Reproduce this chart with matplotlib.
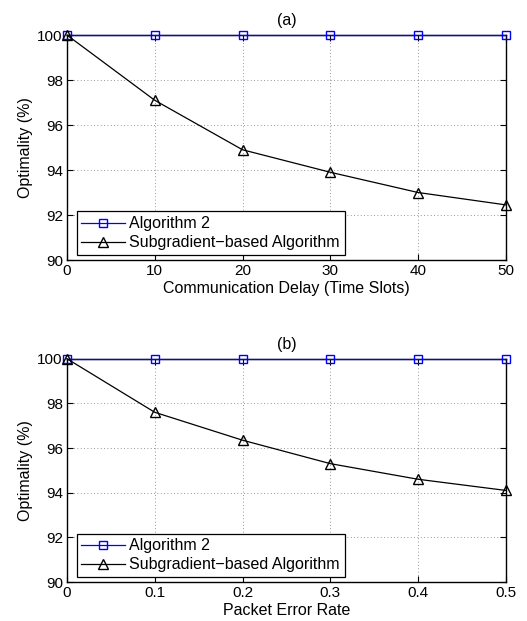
import numpy as np
from matplotlib import pyplot as plt

plt.rcParams['font.family'] = ['Liberation Sans', 'DejaVu Sans']
plt.rcParams['font.size'] = 11

# (a) communication delay
delay = [0, 10, 20, 30, 40, 50]
alg2_a = [100, 100, 100, 100, 100, 100]
subgrad_a = [100, 97.1, 94.9, 93.9, 93.0, 92.45]

# (b) packet error rate
per = [0, 0.1, 0.2, 0.3, 0.4, 0.5]
alg2_b = [100, 100, 100, 100, 100, 100]
subgrad_b = [100, 97.6, 96.35, 95.3, 94.6, 94.1]

yticks = [90, 92, 94, 96, 98, 100]


def draw(ax, x, y1, y2, xlabel, title, xticklabels):
    ax.plot(x, y1, color='blue', marker='s', markersize=6, markerfacecolor='none',
            linewidth=0.9, clip_on=False, zorder=3, label='Algorithm 2')
    ax.plot(x, y2, color='black', marker='^', markersize=7, markerfacecolor='none',
            linewidth=0.9, clip_on=False, zorder=3, label='Subgradient\u2212based Algorithm')
    ax.set_xlim(x[0], x[-1])
    ax.set_ylim(90, 100)
    ax.set_xticks(x)
    ax.set_xticklabels(xticklabels)
    ax.set_yticks(yticks)
    ax.grid(True, linestyle=(0, (1, 3)), color='black', linewidth=0.6, alpha=0.55)
    ax.tick_params(direction='in', length=4, labelsize=11, pad=3,
                   top=True, right=True)
    for s in ax.spines.values():
        s.set_linewidth(1.0)
    ax.set_xlabel(xlabel, fontsize=11.5, labelpad=2)
    ax.set_ylabel('Optimality (%)', fontsize=11.5, labelpad=3)
    ax.set_title(title, fontsize=11.5, pad=7)
    leg = ax.legend(loc='lower left', bbox_to_anchor=(0.022, 0.022), fancybox=False,
                    edgecolor='black', framealpha=1, fontsize=11.5, handlelength=2.7,
                    borderpad=0.3, labelspacing=0.25, handletextpad=0.3, borderaxespad=0)
    leg.get_frame().set_linewidth(0.9)


fig = plt.figure(figsize=(5.27, 6.21), dpi=100)
ax1 = fig.add_axes([0.127, 0.5813, 0.833, 0.3623])
ax2 = fig.add_axes([0.127, 0.0628, 0.833, 0.3596])

draw(ax1, delay, alg2_a, subgrad_a, 'Communication Delay (Time Slots)', '(a)',
     [str(v) for v in delay])
draw(ax2, per, alg2_b, subgrad_b, 'Packet Error Rate', '(b)',
     ['0', '0.1', '0.2', '0.3', '0.4', '0.5'])

fig.savefig('out.png', dpi=100)
